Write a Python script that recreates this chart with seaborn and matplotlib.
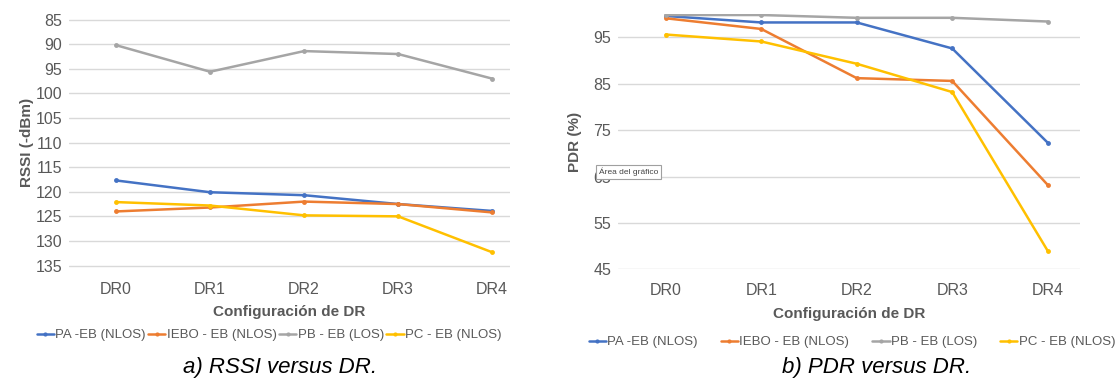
import numpy as np
import pandas as pd
import seaborn as sb
import matplotlib.pyplot as plt

# data
dr = ['DR0', 'DR1', 'DR2', 'DR3', 'DR4']
series = ['PA -EB (NLOS)', 'IEBO - EB (NLOS)', 'PB - EB (LOS)', 'PC - EB (NLOS)']
colors = ['#4472C4', '#ED7D31', '#A5A5A5', '#FFC000']

rssi_pa = [117.7, 120.1, 120.7, 122.5, 123.9]
rssi_iebo = [124.0, 123.2, 122.0, 122.5, 124.2]
rssi_pb = [90.2, 95.6, 91.4, 92.0, 97.0]
rssi_pc = [122.1, 122.8, 124.8, 125.0, 132.3]

pdr_pa = [99.6, 98.2, 98.2, 92.6, 72.3]
pdr_iebo = [99.1, 96.8, 86.2, 85.6, 63.2]
pdr_pb = [99.8, 99.8, 99.2, 99.2, 98.4]
pdr_pc = [95.6, 94.1, 89.3, 83.2, 49.0]

rssi_ticks = [85, 90, 95, 100, 105, 110, 115, 120, 125, 130, 135]
pdr_ticks = [45, 55, 65, 75, 85, 95]


def long_df(vals):
    rows = []
    for name, v in zip(series, vals):
        for i, y in enumerate(v):
            rows.append({'pos': i, 'serie': name, 'val': y})
    return pd.DataFrame(rows)


rssi = long_df([rssi_pa, rssi_iebo, rssi_pb, rssi_pc])
pdr = long_df([pdr_pa, pdr_iebo, pdr_pb, pdr_pc])

sb.set_style("white")
plt.rcParams['font.family'] = ['Liberation Sans', 'DejaVu Sans']

txt = '#595959'
fig = plt.figure(figsize=(11.17, 3.81), dpi=100)
ax1 = fig.add_axes([0.0618, 0.2966, 0.3948, 0.6584])
ax2 = fig.add_axes([0.5533, 0.293, 0.4137, 0.670])

for ax, df in [(ax1, rssi), (ax2, pdr)]:
    sb.lineplot(data=df, x='pos', y='val', hue='serie', palette=colors,
                hue_order=series, marker='o', markersize=3.5, markeredgewidth=0,
                linewidth=1.8, ax=ax, legend=False)
    for s in ax.spines.values():
        s.set_visible(False)
    ax.set_xticks(range(5))
    ax.set_xticklabels(dr)
    ax.tick_params(axis='both', length=0, labelsize=11.5, colors=txt)
    ax.tick_params(axis='x', pad=10)
    ax.tick_params(axis='y', pad=5)
    ax.yaxis.grid(True, color='#D9D9D9', linewidth=1)
    ax.set_axisbelow(True)
    ax.set_xlabel('Configuración de DR', fontsize=11, fontweight='bold', color=txt, labelpad=6)

ax1.set_ylim(135.5, 84.5)
ax1.set_yticks(rssi_ticks)
ax1.set_xlim(-0.5, 4.19)
ax1.set_ylabel('RSSI (-dBm)', fontsize=11, fontweight='bold', color=txt, labelpad=1)

ax2.set_ylim(45, 100)
ax2.set_yticks(pdr_ticks)
ax2.set_xlim(-0.5, 4.34)
ax2.set_ylabel('PDR (%)', fontsize=11, fontweight='bold', color=txt, labelpad=8)

handles = [plt.Line2D([], [], color=c, linewidth=1.8, marker='o', markersize=3,
                      markeredgewidth=0) for c in colors]
fig.legend(handles, series, loc='center', bbox_to_anchor=(269 / 1117, 1 - 335 / 381),
           ncol=4, frameon=False, fontsize=9.5, handlelength=1.3, handletextpad=0.1,
           columnspacing=0.2, labelcolor=txt)
fig.legend(handles, series, loc='center', bbox_to_anchor=(852 / 1117, 1 - 342 / 381),
           ncol=4, frameon=False, fontsize=9.5, handlelength=1.3, handletextpad=0.1,
           columnspacing=1.75, labelcolor=txt)

fig.text(280 / 1117, 1 - 367 / 381, 'a) RSSI versus DR.', fontsize=16, style='italic',
         ha='center', va='center', color='#000000')
fig.text(877 / 1117, 1 - 367 / 381, 'b) PDR versus DR.', fontsize=16, style='italic',
         ha='center', va='center', color='#000000')

# tooltip left over from the screenshot
fig.text(599 / 1117, 1 - 172 / 381, 'Área del gráfico', fontsize=6, color='#444444',
         ha='left', va='center',
         bbox=dict(boxstyle='square,pad=0.35', facecolor='white', edgecolor='#A0A0A0', linewidth=0.8))

plt.savefig('out.png', dpi=100)
